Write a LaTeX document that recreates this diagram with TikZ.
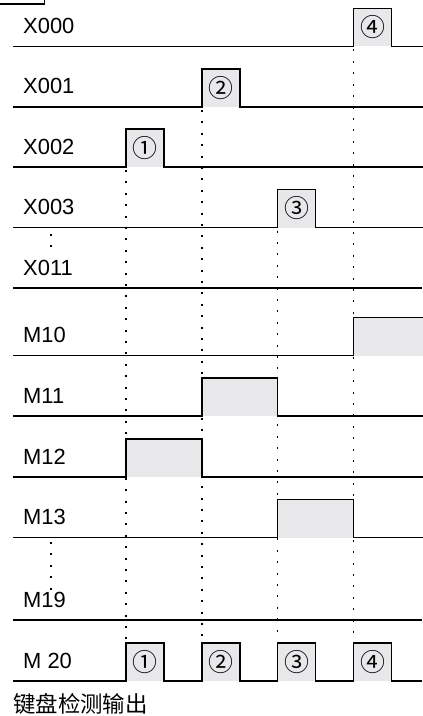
\documentclass[tikz,border=0pt]{standalone}
\usepackage{fontspec}
\setmainfont{Liberation Sans}
\newfontfamily\cjkfont{Noto Sans CJK SC}
\usetikzlibrary{positioning}
\definecolor{pulsefill}{HTML}{E8E8EA}

\begin{document}
\begin{tikzpicture}[x=1bp,y=-1bp,
  wave/.style={line width=1.7bp,line join=miter},
  pulse/.style={fill=pulsefill},
  guide/.style={line width=1.4bp,dash pattern=on 2bp off 9.4bp},
  sig/.style={anchor=base west,inner sep=0pt,font=\fontsize{22}{26}\selectfont},
  num/.style={inner sep=0pt,font=\cjkfont\fontsize{25}{28}\selectfont}
]
\useasboundingbox (0,0) rectangle (422,716);

% corner of the frame above
\draw[line width=1.3bp] (0,4) -- (44.5,4) -- (44.5,0);

% signal names
\foreach \nm/\txt/\y in {x0/X000/46.5,x1/X001/107,x2/X002/167,x3/X003/227.5,x11/X011/288,
    m10/M10/355.5,m11/M11/416,m12/M12/477,m13/M13/537.5,m19/M19/620,m20/M 20/681}
  \node[sig] (lbl-\nm) at (23,\y-13) {\txt};

% single pulse rows
\foreach \nm/\y/\a/\b in {x0/46.5/353.5/391.5,x1/107/202/240,x2/167/126/164,x3/227.5/277.5/315.5,
    m10/355.5/353.5/426,m11/416/202/277.5,m12/477/126/202,m13/537.5/277.5/353.5} {
  \fill[pulse] (\a,\y-38) rectangle (\b,\y);
  \draw[wave] (13,\y) -- (\a,\y) -- (\a,\y-38) -- (\b,\y-38) -- (\b,\y) -- (426,\y);
  \coordinate (\nm-rise) at (\a,\y+3);
}
\draw[wave] (13,288) -- (422,288);
\draw[wave] (13,620) -- (422,620);

% key output row
\foreach \i/\t in {1/126,2/202,3/277.5,4/353.5} {
  \fill[pulse] (\t,643) rectangle (\t+38,681);
  \coordinate (out-\i) at (\t,640);
}
\draw[wave] (13,681) -- (126,681)
  -- (126,643) -- (164,643) -- (164,681) -- (202,681)
  -- (202,643) -- (240,643) -- (240,681) -- (277.5,681)
  -- (277.5,643) -- (315.5,643) -- (315.5,681) -- (353.5,681)
  -- (353.5,643) -- (391.5,643) -- (391.5,681) -- (422,681);

% circled step numbers
\node[num] (n4) at (372.5,27.5) {④};
\node[num] (n2) at (221,88) {②};
\node[num] (n1) at (145,148) {①};
\node[num] (n3) at (296.5,208.5) {③};
\foreach \i/\t/\s in {1/126/①,2/202/②,3/277.5/③,4/353.5/④}
  \node[num] (o\i) at (\t+19,662) {\s};

% timing guides
\draw[guide] (x2-rise) -- (out-1);
\draw[guide] (x1-rise) -- (out-2);
\draw[guide] (x3-rise) -- (out-3);
\draw[guide] (x0-rise) -- (out-4);
\draw[guide] (51,234) -- (51,250);
\draw[guide] (51,542) -- (51,592);

\node[anchor=west,inner sep=0pt,font=\cjkfont\fontsize{22.5}{26}\selectfont] (caption) at (13,704) {键盘检测输出};
\end{tikzpicture}
\end{document}
